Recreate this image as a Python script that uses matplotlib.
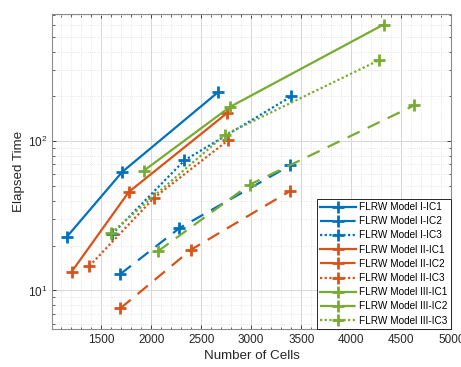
import numpy as np
import matplotlib
matplotlib.use("Agg")
import matplotlib.pyplot as plt
import matplotlib.ticker as ticker

plt.rcParams['font.family'] = ['Liberation Sans', 'DejaVu Sans']

# data
cells_I_IC1 = [1160, 1710, 2670]
time_I_IC1 = [23.0, 62.3, 214.0]
cells_I_IC2 = [1693, 2283, 3390]
time_I_IC2 = [12.9, 26.2, 69.0]
cells_I_IC3 = [1610, 2333, 3400]
time_I_IC3 = [23.9, 74.6, 200.0]

cells_II_IC1 = [1207, 1777, 2760]
time_II_IC1 = [13.4, 45.8, 155.0]
cells_II_IC2 = [1693, 2400, 3383]
time_II_IC2 = [7.6, 18.8, 46.2]
cells_II_IC3 = [1383, 2027, 2767]
time_II_IC3 = [14.6, 41.7, 101.5]

cells_III_IC1 = [1927, 2787, 4323]
time_III_IC1 = [63.6, 170.0, 607.0]
cells_III_IC2 = [2067, 2983, 4627]
time_III_IC2 = [18.3, 51.2, 174.0]
cells_III_IC3 = [1600, 2740, 4277]
time_III_IC3 = [24.3, 111.0, 350.0]

labels = ['FLRW Model I-IC1', 'FLRW Model I-IC2', 'FLRW Model I-IC3',
          'FLRW Model II-IC1', 'FLRW Model II-IC2', 'FLRW Model II-IC3',
          'FLRW Model III-IC1', 'FLRW Model III-IC2', 'FLRW Model III-IC3']

BLUE = '#0072BD'
ORANGE = '#D95319'
GREEN = '#77AC30'

DASH = (0, (6, 4))
DOT = (0, (1, 1.1))

series = [
    (cells_I_IC1, time_I_IC1, BLUE, '-'),
    (cells_I_IC2, time_I_IC2, BLUE, DASH),
    (cells_I_IC3, time_I_IC3, BLUE, DOT),
    (cells_II_IC1, time_II_IC1, ORANGE, '-'),
    (cells_II_IC2, time_II_IC2, ORANGE, DASH),
    (cells_II_IC3, time_II_IC3, ORANGE, DOT),
    (cells_III_IC1, time_III_IC1, GREEN, '-'),
    (cells_III_IC2, time_III_IC2, GREEN, DASH),
    (cells_III_IC3, time_III_IC3, GREEN, DOT),
]

fig = plt.figure(figsize=(4.61, 3.67), dpi=100)
ax = fig.add_axes([0.113, 0.103, 0.866, 0.859])

for (x, y, c, ls), lab in zip(series, labels):
    ax.plot(x, y, color=c, linestyle=ls, linewidth=1.6, marker='+',
            markersize=9, markeredgewidth=2, label=lab)

ax.set_yscale('log')
ax.set_xlim(1010, 5000)
ax.set_ylim(5.5, 715)

ax.xaxis.set_major_locator(ticker.MultipleLocator(500))
ax.xaxis.set_minor_locator(ticker.MultipleLocator(100))
ax.xaxis.set_major_formatter(ticker.FuncFormatter(
    lambda v, p: '' if v < 1400 else '%d' % v))
ax.yaxis.set_major_locator(ticker.LogLocator(base=10))
ax.yaxis.set_minor_locator(ticker.LogLocator(base=10, subs=np.arange(2, 10)))
ax.yaxis.set_minor_formatter(ticker.NullFormatter())

ax.grid(True, which='major', color='#d6d6d6', linewidth=0.7, linestyle='-')
ax.grid(True, which='minor', color='#dedede', linewidth=0.6, linestyle=':')
ax.set_axisbelow(True)

ax.tick_params(which='both', direction='in', top=True, right=True,
               colors='#262626', labelcolor='#262626', labelsize=8.5)
ax.tick_params(which='major', length=3, width=0.6)
ax.tick_params(which='minor', length=1.8, width=0.5)
for s in ax.spines.values():
    s.set_color('#8c8c8c')
    s.set_linewidth(0.8)

ax.set_xlabel('Number of Cells', fontsize=9.6, color='#262626', labelpad=3)
ax.set_ylabel('Elapsed Time', fontsize=9.6, color='#262626', labelpad=2)

leg = ax.legend(loc='lower right', fontsize=7.2, frameon=True, fancybox=False,
                edgecolor='#262626', framealpha=1, borderaxespad=0,
                handlelength=3.6, handletextpad=0.3, labelspacing=0.42,
                borderpad=0.35)
leg.get_frame().set_linewidth(0.7)

plt.savefig('out.png', dpi=100)
